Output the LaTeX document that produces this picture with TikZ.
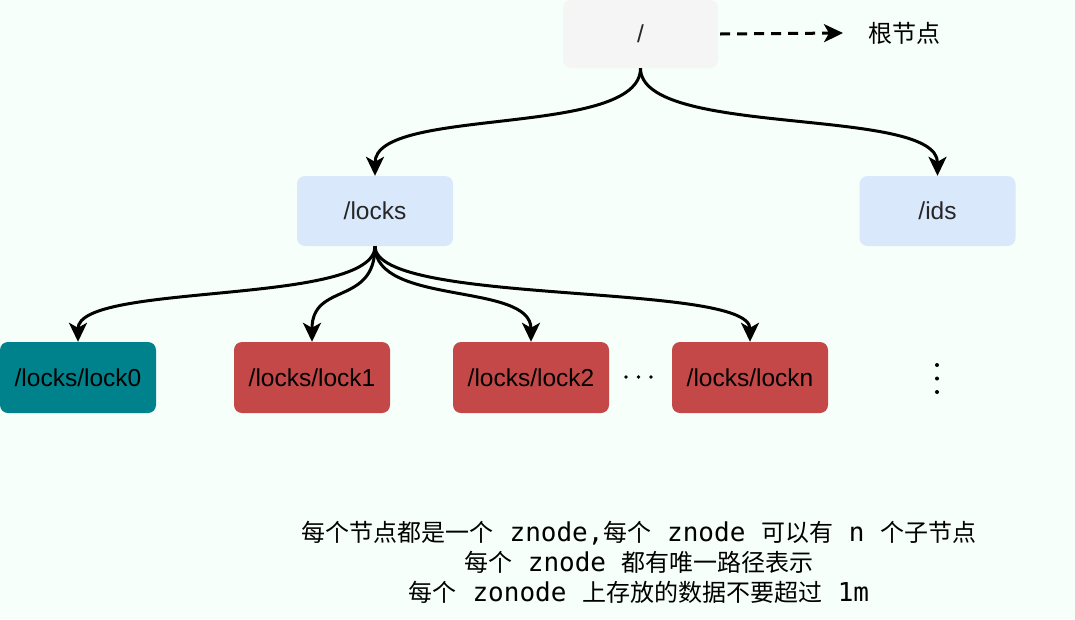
\documentclass[tikz,border=0pt]{standalone}
\usepackage{fontspec}
\setmainfont{Liberation Sans}
\setmonofont{DejaVu Sans Mono}
\newfontfamily\cjk{Noto Sans CJK SC}
\usetikzlibrary{arrows.meta}
\definecolor{bgmint}{RGB}{246,255,249}
\definecolor{rootgray}{RGB}{245,245,245}
\definecolor{dirblue}{RGB}{218,232,252}
\definecolor{lockteal}{RGB}{0,130,140}
\definecolor{lockred}{RGB}{196,72,72}
\newcommand\zm[1]{{\ttfamily\fontsize{26}{30}\selectfont #1}}
\newcommand\zc[1]{{\cjk\fontsize{24}{30}\selectfont #1}}

\begin{document}
\begin{tikzpicture}[x=1pt,y=-1pt,
  box/.style={rounded corners=8pt,minimum width=156pt,minimum height=70pt,inner sep=0pt,
    font=\fontsize{24.5}{28}\selectfont,text=black!85},
  link/.style={line width=3pt,-{Stealth[length=19pt,width=18pt,inset=5pt]}}]
\fill[bgmint] (0,0) rectangle (1075,619);
\node[box,fill=rootgray,minimum width=155pt,minimum height=68pt] (root) at (640.5,34) {/};
\node[inner sep=0pt,anchor=west] (rootlbl) at (868,33) {\zc{根节点}};
\draw[line width=3pt,dash pattern=on 10pt off 7pt,-{Stealth[length=19pt,width=18pt,inset=5pt]}]
  ([xshift=2pt]root.east) -- ([xshift=-25pt]rootlbl.west);
\node[box,fill=dirblue] (locks) at (375,211) {/locks};
\node[box,fill=dirblue] (ids) at (937.5,211) {/ids};
\node[box,fill=lockteal,minimum height=71pt,text=black] (lock0) at (78,377.5) {/locks/lock0};
\node[box,fill=lockred,minimum height=71pt,text=black] (lock1) at (312,377.5) {/locks/lock1};
\node[box,fill=lockred,minimum height=71pt,text=black] (lock2) at (531,377.5) {/locks/lock2};
\node[box,fill=lockred,minimum height=71pt,text=black] (lockn) at (750,377.5) {/locks/lockn};
\draw[link] (root.south) .. controls +(0,70) and +(0,-70) .. (locks.north);
\draw[link] (root.south) .. controls +(0,70) and +(0,-70) .. (ids.north);
\foreach \t in {lock0,lock1,lock2,lockn}
  \draw[link] (locks.south) .. controls +(0,60) and +(0,-60) .. (\t.north);
\foreach \x in {626,638.5,651} \fill (\x,377) circle (1.8pt);
\foreach \y in {365,378.5,392} \fill (937,\y) circle (2pt);
\node[align=center,inner sep=0pt,font=\fontsize{24}{30}\selectfont] (note) at (639,562)
  {\zc{每个节点都是一个}\zm{ znode,}\zc{每个}\zm{ znode }\zc{可以有}\zm{ n }\zc{个子节点}\\
   \zc{每个}\zm{ znode }\zc{都有唯一路径表示}\\
   \zc{每个}\zm{ zonode }\zc{上存放的数据不要超过}\zm{ 1m}};
\end{tikzpicture}
\end{document}
